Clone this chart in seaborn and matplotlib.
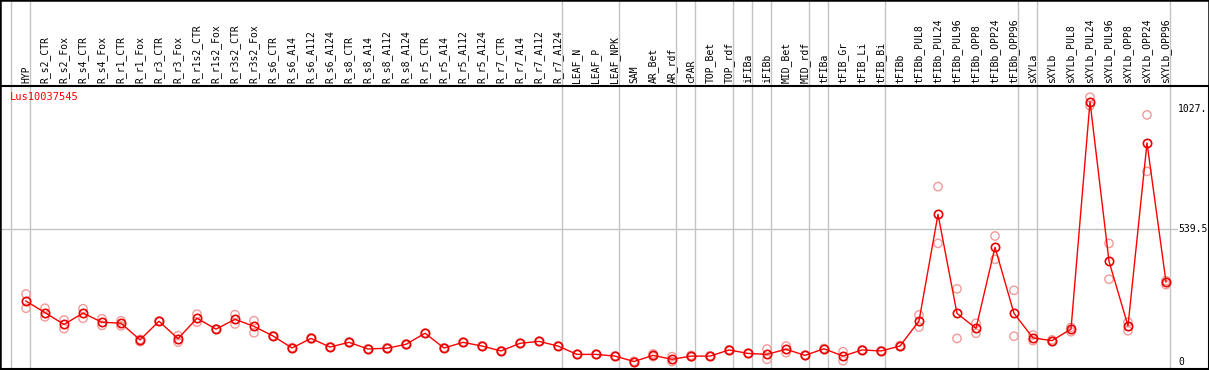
import matplotlib
matplotlib.use("Agg")
import matplotlib.pyplot as plt
import matplotlib.patches as patches
import matplotlib.transforms as mtransforms
import seaborn as sns
import pandas as pd
import numpy as np

# expression profile for one gene across tissues / treatments
gene_name = "Lus10037545"

categories = ["HYP", "R_s2_CTR", "R_s2_Fox", "R_s4_CTR", "R_s4_Fox", "R_r1_CTR", "R_r1_Fox",
              "R_r3_CTR", "R_r3_Fox", "R_r1s2_CTR", "R_r1s2_Fox", "R_r3s2_CTR", "R_r3s2_Fox",
              "R_s6_CTR", "R_s6_A14", "R_s6_A112", "R_s6_A124",
              "R_s8_CTR", "R_s8_A14", "R_s8_A112", "R_s8_A124",
              "R_r5_CTR", "R_r5_A14", "R_r5_A112", "R_r5_A124",
              "R_r7_CTR", "R_r7_A14", "R_r7_A112", "R_r7_A124",
              "LEAF_N", "LEAF_P", "LEAF_NPK", "SAM", "AR_Bet", "AR_rdf", "cPAR",
              "TOP_Bet", "TOP_rdf", "iFIBa", "iFIBb", "MID_Bet", "MID_rdf",
              "tFIBa", "tFIB_Gr", "tFIB_Li", "tFIB_Bi", "tFIBb",
              "tFIBb_PUL8", "tFIBb_PUL24", "tFIBb_PUL96", "tFIBb_OPP8", "tFIBb_OPP24", "tFIBb_OPP96",
              "sXYLa", "sXYLb",
              "sXYLb_PUL8", "sXYLb_PUL24", "sXYLb_PUL96", "sXYLb_OPP8", "sXYLb_OPP24", "sXYLb_OPP96"]

mean_values = [246, 199, 151, 197, 160, 156, 88, 164, 93, 176, 132, 172, 143,
               104, 55, 94, 59, 78, 51, 54, 70, 115, 55, 78, 63, 43, 74, 82, 63,
               29, 29, 22, 0, 25, 9, 22, 22, 47, 33, 29, 50, 25,
               52, 22, 47, 43, 63,
               165, 599, 196, 135, 465, 196,
               96, 85, 132, 1058, 408, 145, 890, 324]

rep_a = [275, 217, 169, 215, 174, 166, 90, 164, 105, 193, 132, 191, 166,
         104, 57, 96, 60, 80, 52, 56, 72, 115, 56, 79, 64, 44, 75, 83, 64,
         30, 30, 23, 1, 31, 20, 25, 23, 48, 34, 51, 63, 26,
         53, 40, 48, 44, 65,
         190, 712, 296, 156, 511, 290,
         108, 88, 139, 1076, 481, 160, 1004, 329]

rep_b = [217, 182, 134, 176, 147, 145, 81, 164, 79, 160, 132, 153, 117,
         104, 53, 92, 58, 76, 50, 52, 68, 115, 54, 77, 62, 42, 73, 81, 62,
         28, 28, 21, -1, 20, 0, 19, 21, 46, 32, 9, 36, 24,
         51, 3, 46, 42, 61,
         140, 481, 94, 115, 416, 103,
         85, 81, 121, 1042, 335, 125, 774, 313]

# group separators sit just right of these category indices
group_breaks = [-1, 0, 28, 31, 34, 35, 37, 38, 39, 41, 42, 45, 52, 53, 60]

df = pd.DataFrame({"pos": np.arange(len(categories)), "category": categories, "mean": mean_values})
reps = pd.DataFrame({"pos": np.concatenate([df["pos"], df["pos"]]),
                     "value": rep_a + rep_b})

plt.rcParams["font.family"] = ["DejaVu Sans Mono"]
plt.rcParams["font.size"] = 7

W, H = 1209, 370
fig = plt.figure(figsize=(W / 100, H / 100), dpi=100)
fig.patch.set_facecolor("white")

# plot area: y pixels 86..369 from top
ax = fig.add_axes([0, 1 / H, 1, 283 / H])
ax.set_facecolor("white")

x_left = -26 / 19
x_right = (W - 26) / 19
ax.set_xlim(x_left, x_right)
ax.set_ylim(-30.5, 1121.7)

grid_col = "#c4c4c4"
for b in group_breaks:
    ax.axvline(b + 0.22, ymin=0, ymax=1 + 86 / 283, color=grid_col, lw=1.0, clip_on=False, zorder=0)
ax.axhline(539.5, xmin=0, xmax=1177 / W, color=grid_col, lw=1.0, zorder=0)

sns.scatterplot(data=reps, x="pos", y="value", ax=ax, marker="o", s=36,
                facecolors="none", edgecolor="#f29a9a", linewidth=1.0, zorder=2, legend=False)
sns.lineplot(data=df, x="pos", y="mean", ax=ax, color="red", lw=1.0, marker="o",
             markersize=6, markerfacecolor="none", markeredgecolor="#e80000", markeredgewidth=1.2,
             zorder=3, legend=False)

ax.set_xticks([])
ax.set_yticks([])
ax.set_xlabel("")
ax.set_ylabel("")
for s in ax.spines.values():
    s.set_color("black")
    s.set_linewidth(1.5)

# category labels above the plot
trans = mtransforms.blended_transform_factory(ax.transData, ax.transAxes)
for i, name in enumerate(categories):
    ax.text(i, 1 + 3 / 283, name, transform=trans, rotation=90, ha="center", va="bottom",
            fontsize=7, color="black", clip_on=False)

# value labels on the right
for val, txt in [(1027, "1027."), (539.5, "539.5"), (0, "0")]:
    ax.text((1178 - 26) / 19, val, txt, ha="left", va="center", fontsize=7, color="black")

ax.text((10 - 26) / 19, 1 - 11 / 283, gene_name, transform=trans, ha="left", va="center",
        fontsize=7.5, color="red")

# outer frame
fig.patches.append(patches.Rectangle((0, 0), 1, 1, transform=fig.transFigure, fill=False,
                                     edgecolor="black", lw=1.8))

fig.savefig("out.png", dpi=100)
